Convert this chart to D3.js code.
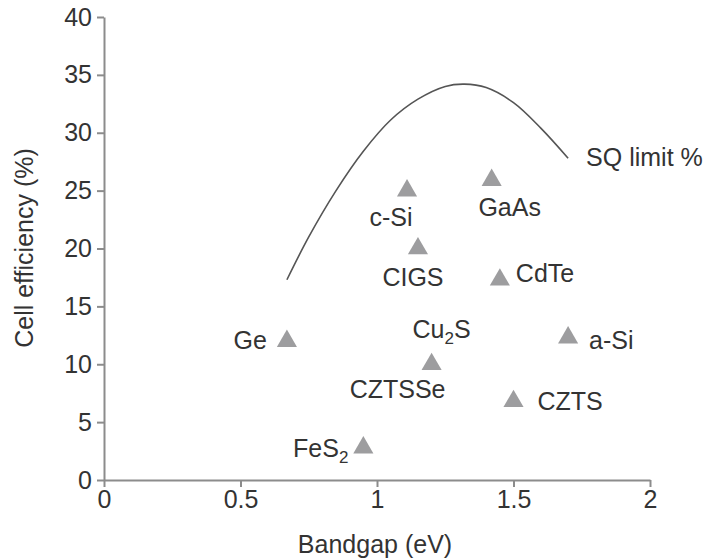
<!DOCTYPE html>
<html>
<head>
<meta charset="utf-8">
<script src="https://cdn.jsdelivr.net/npm/d3@7"></script>
<style>
  body { margin: 0; background: #fff; }
  svg { display: block; font-family: "Liberation Sans", Arial, sans-serif; }
  .axis path, .axis line { stroke: #8c8c8c; stroke-width: 2; }
  .axis text { fill: #333; font-size: 25px; }
  .lbl { fill: #333; font-size: 25px; }
</style>
</head>
<body>
<svg id="chart" width="711" height="560"></svg>
<script>
// materials and their record efficiencies
const materials = ["Ge", "FeS2", "c-Si", "CIGS", "CZTSSe", "GaAs", "CdTe", "CZTS", "a-Si", "Cu2S"];
const bandgaps = [0.67, 0.95, 1.11, 1.15, 1.20, 1.42, 1.45, 1.50, 1.70, 1.20];
const efficiencies = [12.0, 2.8, 25.0, 20.0, 10.0, 25.9, 17.3, 6.8, 12.3, null];

// Shockley-Queisser limit curve
const sqBandgap = [0.67, 0.75, 0.85, 0.95, 1.05, 1.15, 1.25, 1.32, 1.40, 1.50, 1.60, 1.70];
const sqEfficiency = [17.3, 21.0, 25.0, 28.4, 31.1, 32.9, 34.0, 34.2, 33.9, 32.6, 30.4, 27.8];

const xTicks = [0, 0.5, 1, 1.5, 2];
const yTicks = [0, 5, 10, 15, 20, 25, 30, 35, 40];

const svg = d3.select("#chart");
const x = d3.scaleLinear().domain([0, 2]).range([104, 650]);
const y = d3.scaleLinear().domain([0, 40]).range([480, 17]);

svg.append("g")
    .attr("class", "axis")
    .attr("transform", "translate(0,480)")
    .call(d3.axisBottom(x).tickValues(xTicks).tickFormat(d => d).tickSize(7).tickSizeOuter(0).tickPadding(3));

svg.append("g")
    .attr("class", "axis")
    .attr("transform", "translate(104,0)")
    .call(d3.axisLeft(y).tickValues(yTicks).tickSize(7).tickSizeOuter(0).tickPadding(5));

// axis titles
svg.append("text").attr("class", "lbl")
    .attr("x", 375).attr("y", 553)
    .attr("text-anchor", "middle")
    .text("Bandgap (eV)");

svg.append("text").attr("class", "lbl")
    .attr("transform", "translate(33,248) rotate(-90)")
    .attr("text-anchor", "middle")
    .text("Cell efficiency (%)");

// SQ curve
const sq = sqBandgap.map((b, i) => [b, sqEfficiency[i]]);
svg.append("path")
    .datum(sq)
    .attr("fill", "none")
    .attr("stroke", "#555")
    .attr("stroke-width", 1.6)
    .attr("d", d3.line().x(d => x(d[0])).y(d => y(d[1])).curve(d3.curveCatmullRom));

svg.append("text").attr("class", "lbl")
    .attr("x", x(1.70) + 18).attr("y", y(27.8) + 8)
    .text("SQ limit %");

// points
const pts = materials.map((m, i) => ({ name: m, bg: bandgaps[i], eff: efficiencies[i] }))
    .filter(d => d.eff !== null);

svg.selectAll(".pt")
    .data(pts)
    .enter()
    .append("path")
    .attr("class", "pt")
    .attr("fill", "#9d9d9f")
    .attr("transform", d => `translate(${x(d.bg)},${y(d.eff)})`)
    .attr("d", d3.symbol(d3.symbolTriangle, 175));

// label placement relative to each triangle
const place = {
    "Ge":     { dx: -20, dy: 8,  anchor: "end" },
    "FeS2":   { dx: -15, dy: 9,  anchor: "end" },
    "c-Si":   { dx: -16, dy: 35, anchor: "middle" },
    "CIGS":   { dx: -5,  dy: 37, anchor: "middle" },
    "CZTSSe": { dx: -34, dy: 34, anchor: "middle" },
    "GaAs":   { dx: 18,  dy: 36, anchor: "middle" },
    "CdTe":   { dx: 16,  dy: 2,  anchor: "start" },
    "CZTS":   { dx: 24,  dy: 9,  anchor: "start" },
    "a-Si":   { dx: 21,  dy: 11, anchor: "start" },
    "Cu2S":   { dx: 10,  dy: -26, anchor: "middle" }
};

const labelData = materials.map((m, i) => ({
    name: m,
    bg: bandgaps[i],
    eff: efficiencies[i] === null ? efficiencies[materials.indexOf("CZTSSe")] : efficiencies[i]
}));

labelData.forEach(d => {
    const p = place[d.name];
    const t = svg.append("text").attr("class", "lbl")
        .attr("x", x(d.bg) + p.dx)
        .attr("y", y(d.eff) + p.dy)
        .attr("text-anchor", p.anchor);
    const m = d.name.match(/^([A-Za-z]+)(\d)([A-Za-z]*)$/);
    if (m && d.name !== "a-Si") {
        t.append("tspan").text(m[1]);
        t.append("tspan").attr("font-size", "17px").attr("dy", 6).text(m[2]);
        if (m[3]) t.append("tspan").attr("dy", -6).text(m[3]);
    } else {
        t.text(d.name);
    }
});
</script>
</body>
</html>
